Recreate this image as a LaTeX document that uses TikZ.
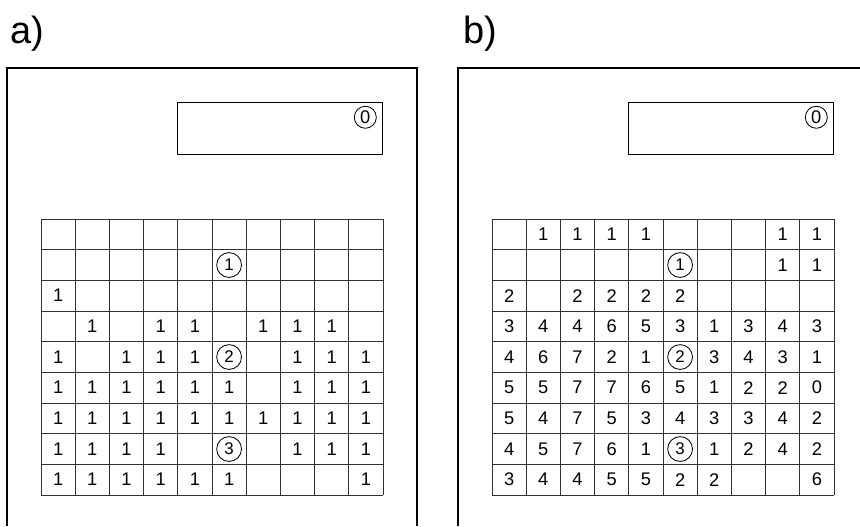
\documentclass[tikz,border=0pt]{standalone}
\usepackage{fontspec}
\setmainfont{Liberation Sans}
\usetikzlibrary{positioning}

\begin{document}
\begin{tikzpicture}[
  x=0.025cm, y=-0.025cm,
  frame/.style={line width=0.75pt},
  gridline/.style={line width=0.6pt, black!80},
  num/.style={font=\fontsize{13}{13}\selectfont, inner sep=0pt},
  circnum/.style={font=\fontsize{12}{12}\selectfont, inner sep=0pt, draw, circle, line width=0.6pt, minimum size=0.62cm},
  zero/.style={num, draw, circle, line width=0.6pt, minimum size=0.55cm},
  topbox/.style={draw, line width=0.6pt, minimum width=5.13cm, minimum height=1.3cm, inner sep=0pt},
  lbl/.style={font=\fontsize{27}{27}\selectfont, anchor=base west, inner sep=0pt},
]
  \useasboundingbox (0,0) rectangle (860,526);

  % panel a
  \node[lbl] (lbla) at (10,43) {a)};
  \draw[frame] (7,526) -- (7,68) -- (417,68) -- (417,526);
  \node[topbox, anchor=north east] (boxa) at (383,102) {};
  \node[zero, below left=0.18cm and 0.24cm of boxa.north east] (zeroa) {0};
  \foreach \i in {0,...,10}
    \draw[gridline] ({41+\i*34.2},219) -- ++(0,276);
  \foreach \j in {0,...,9}
    \draw[gridline] (41,{219+\j*30.67}) -- ++(342,0);
  \foreach \row [count=\r] in {
      {.,.,.,.,.,.,.,.,.,.},
      {.,.,.,.,.,.,.,.,.,.},
      {1,.,.,.,.,.,.,.,.,.},
      {.,1,.,1,1,.,1,1,1,.},
      {1,.,1,1,1,.,.,1,1,1},
      {1,1,1,1,1,1,.,1,1,1},
      {1,1,1,1,1,1,1,1,1,1},
      {1,1,1,1,.,.,.,1,1,1},
      {1,1,1,1,1,1,.,.,.,1}} {
    \foreach \v [count=\c] in \row {
      \if\v.\else
        \node[num] (a-\r-\c) at ({41+(\c-0.5)*34.2},{219+(\r-0.5)*30.67}) {\v};
      \fi
    }
  }
  \foreach \r/\v in {2/1, 5/2, 8/3}
    \node[circnum] (a-\r-6) at ({41+5.5*34.2},{219+(\r-0.5)*30.67}) {\v};

  % panel b
  \node[lbl] (lblb) at (463,43) {b)};
  \draw[frame] (458,526) -- (458,68) -- (860,68);
  \node[topbox, anchor=north east] (boxb) at (834,102) {};
  \node[zero, below left=0.18cm and 0.24cm of boxb.north east] (zerob) {0};
  \foreach \i in {0,...,10}
    \draw[gridline] ({492+\i*34.2},219) -- ++(0,276);
  \foreach \j in {0,...,9}
    \draw[gridline] (492,{219+\j*30.67}) -- ++(342,0);
  \foreach \row [count=\r] in {
      {.,1,1,1,1,.,.,.,1,1},
      {.,.,.,.,.,.,.,.,1,1},
      {2,.,2,2,2,2,.,.,.,.},
      {3,4,4,6,5,3,1,3,4,3},
      {4,6,7,2,1,.,3,4,3,1},
      {5,5,7,7,6,5,1,2,2,0},
      {5,4,7,5,3,4,3,3,4,2},
      {4,5,7,6,1,.,1,2,4,2},
      {3,4,4,5,5,2,2,.,.,6}} {
    \foreach \v [count=\c] in \row {
      \if\v.\else
        \node[num] (b-\r-\c) at ({492+(\c-0.5)*34.2},{219+(\r-0.5)*30.67}) {\v};
      \fi
    }
  }
  \foreach \r/\v in {2/1, 5/2, 8/3}
    \node[circnum] (b-\r-6) at ({492+5.5*34.2},{219+(\r-0.5)*30.67}) {\v};
\end{tikzpicture}
\end{document}
